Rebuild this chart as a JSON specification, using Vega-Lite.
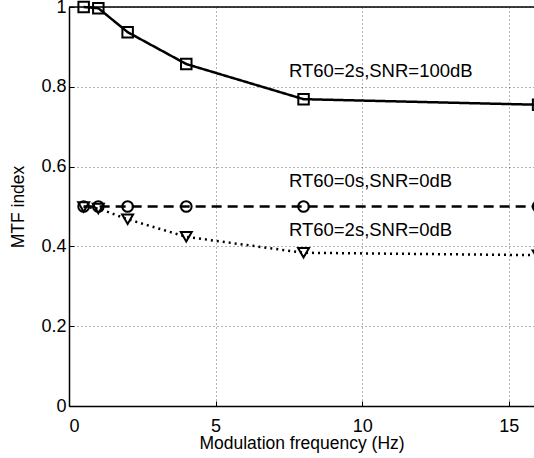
{
  "$schema": "https://vega.github.io/schema/vega-lite/v6.json",
  "autosize": "none",
  "width": 465,
  "height": 399,
  "padding": {"left": 69, "top": 7, "right": 0, "bottom": 52},
  "background": "white",
  "config": {
    "view": {"stroke": null},
    "font": "Liberation Sans",
    "axis": {
      "domainColor": "black",
      "domainWidth": 1.5,
      "grid": true,
      "gridColor": "black",
      "gridDash": [1, 3],
      "gridOpacity": 0.6,
      "gridWidth": 1,
      "tickColor": "black",
      "tickSize": -5,
      "labelFont": "Liberation Sans",
      "labelFontSize": 18,
      "labelColor": "black",
      "titleFont": "Liberation Sans",
      "titleFontSize": 17.5,
      "titleFontWeight": "normal",
      "titleColor": "black"
    }
  },
  "datasets": {
    "curves": [
      {"series": "a", "x": 0.5, "y": 1.0},
      {"series": "a", "x": 1, "y": 0.997},
      {"series": "a", "x": 2, "y": 0.937},
      {"series": "a", "x": 4, "y": 0.857},
      {"series": "a", "x": 8, "y": 0.769},
      {"series": "a", "x": 16, "y": 0.755},
      {"series": "b", "x": 0.5, "y": 0.5},
      {"series": "b", "x": 1, "y": 0.5},
      {"series": "b", "x": 2, "y": 0.5},
      {"series": "b", "x": 4, "y": 0.5},
      {"series": "b", "x": 8, "y": 0.5},
      {"series": "b", "x": 16, "y": 0.5},
      {"series": "c", "x": 0.5, "y": 0.499},
      {"series": "c", "x": 1, "y": 0.495},
      {"series": "c", "x": 2, "y": 0.468},
      {"series": "c", "x": 4, "y": 0.424},
      {"series": "c", "x": 8, "y": 0.384},
      {"series": "c", "x": 16, "y": 0.378}
    ],
    "notes": [
      {"label": "RT60=2s,SNR=100dB", "x": 7.5, "y": 0.839},
      {"label": "RT60=0s,SNR=0dB", "x": 7.5, "y": 0.564},
      {"label": "RT60=2s,SNR=0dB", "x": 7.5, "y": 0.441}
    ]
  },
  "layer": [
    {
      "data": {"name": "curves"},
      "mark": {"type": "line", "color": "black", "strokeWidth": 2.5},
      "encoding": {
        "x": {
          "field": "x", "type": "quantitative",
          "scale": {"domain": [0, 15.86], "nice": false, "zero": false},
          "axis": {"values": [0, 5, 10, 15], "title": "Modulation frequency (Hz)", "labelPadding": 16, "titlePadding": -1}
        },
        "y": {
          "field": "y", "type": "quantitative",
          "scale": {"domain": [0, 1], "nice": false},
          "axis": {"values": [0, 0.2, 0.4, 0.6, 0.8, 1], "format": "~g", "title": "MTF index", "labelPadding": 8, "titlePadding": 13}
        },
        "detail": {"field": "series"},
        "strokeDash": {
          "field": "series", "type": "nominal",
          "scale": {"domain": ["a", "b", "c"], "range": [[1, 0], [10, 6], [2, 4]]},
          "legend": null
        }
      }
    },
    {
      "data": {"name": "curves"},
      "mark": {"type": "point", "filled": false, "color": "black", "strokeWidth": 2, "opacity": 1},
      "encoding": {
        "x": {"field": "x", "type": "quantitative"},
        "y": {"field": "y", "type": "quantitative"},
        "shape": {
          "field": "series", "type": "nominal",
          "scale": {"domain": ["a", "b", "c"], "range": ["square", "circle", "triangle-down"]},
          "legend": null
        },
        "size": {
          "field": "series", "type": "nominal",
          "scale": {"domain": ["a", "b", "c"], "range": [110, 120, 220]},
          "legend": null
        }
      }
    },
    {
      "data": {"name": "notes"},
      "mark": {"type": "text", "align": "left", "baseline": "middle", "fontSize": 18.5, "font": "Liberation Sans", "color": "black"},
      "encoding": {
        "x": {"field": "x", "type": "quantitative"},
        "y": {"field": "y", "type": "quantitative"},
        "text": {"field": "label"}
      }
    },
    {
      "data": {"values": [{}]},
      "mark": {"type": "rule", "color": "black", "strokeWidth": 1.5},
      "encoding": {"y": {"datum": 1}}
    }
  ]
}
